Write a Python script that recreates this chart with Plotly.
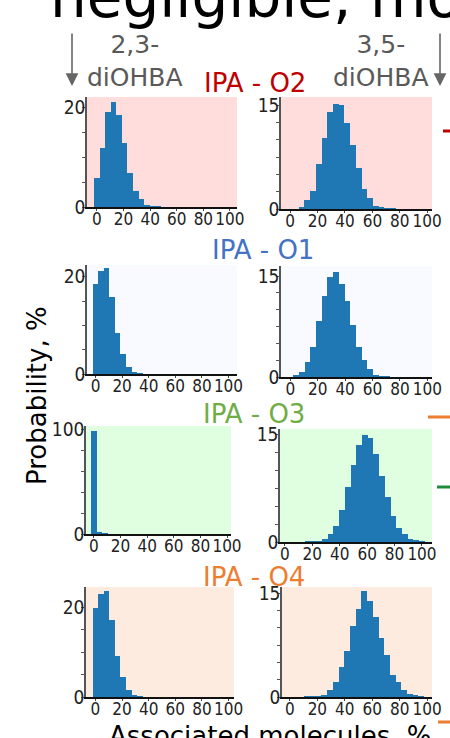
import plotly.graph_objects as go

PAGE_W, PAGE_H = 450, 738
OFF = 0  # body margin removed via post_script
FW, FH = PAGE_W - OFF, PAGE_H - OFF
BIN = 100 / 24
bin_centers = [k * BIN for k in range(25)]

# Probability (%) per bin of associated molecules (%)
o2_23 = [5.8, 11.9, 19.1, 21.1, 18.5, 12.9, 6.8, 3.2, 1.6, 0.46, 0.15, 0.05]
o2_35 = [0, 0, 0.24, 1.3, 2.6, 6.5, 10.2, 14.1, 15.2, 15.1, 12.5, 9.2, 5.9, 2.9, 1.6, 0.43, 0.24, 0.1, 0.05]
o1_23 = [18.4, 21.2, 21.7, 15.8, 8.4, 4.1, 1.5, 0.48, 0.1]
o1_35 = [0, 0.15, 0.8, 2.2, 4.4, 8.3, 12.0, 14.9, 15.6, 13.8, 11.3, 7.8, 4.5, 2.5, 1.2, 0.34, 0.1, 0.05]
o3_23 = [98.4, 1.2, 0.3]
o3_35 = [0, 0, 0, 0, 0.03, 0.05, 0.05, 0.47, 1.1, 2.2, 4.5, 7.7, 10.8, 13.5, 15.0, 14.5, 12.3,
         9.2, 6.3, 3.6, 2.0, 1.1, 0.38, 0.23, 0.1]
o4_23 = [19.9, 23.0, 23.7, 17.2, 9.1, 4.4, 1.5, 0.4, 0.1]
o4_35 = [0, 0, 0, 0.03, 0.05, 0.05, 0.2, 1.06, 2.1, 4.4, 6.7, 10.2, 12.7, 15.3, 13.9, 11.6, 8.6,
         6.1, 3.2, 2.2, 1.06, 0.48, 0.2, 0.1]

x_ticks = [0, 20, 40, 60, 80, 100]
panel_titles = ["IPA - O2", "IPA - O1", "IPA - O3", "IPA - O4"]
title_colors = ["#c00000", "#4472c4", "#70ad47", "#ed7d31"]
bg_colors = ["#ffdddd", "#f8faff", "#e0ffe0", "#fdebe0"]

# panel layout: (series, page-px box x0,x1,y0,y1, xrange, yrange, ytickvals, minor dtick, row)
panels = [
    (o2_23, (87, 237, 97, 207), [-7.5, 105.3], [0, 22.0], [0, 20], 5, 0),
    (o2_35, (281, 432, 97, 209), [-6.7, 103.5], [0, 16.2], [0, 15], 2.5, 0),
    (o1_23, (87, 237, 265, 374), [-6.4, 106.4], [0, 22.4], [0, 20], 5, 1),
    (o1_35, (281, 432, 266, 377), [-6.8, 103.4], [0, 16.5], [0, 15], 2.5, 1),
    (o3_23, (86, 231, 426, 534), [-6.0, 103.0], [0, 103.2], [0, 100], 20, 2),
    (o3_35, (280, 432, 429, 542), [-3.6, 107.3], [0, 15.8], [0, 15], 2.5, 2),
    (o4_23, (86, 234, 587, 697), [-7.1, 104.1], [0, 24.6], [0, 20], 5, 3),
    (o4_35, (282, 432, 587, 697), [-5.8, 103.6], [0, 15.9], [0, 15], 2.5, 3),
]


def px(xp, yp):
    return (xp - OFF) / FW, 1 - (yp - OFF) / FH


FONT = "DejaVu Sans"
TICKFONT = "DejaVu Sans Condensed, DejaVu Sans"
fig = go.Figure()
shapes = []
layout = {}
for i, (vals, box, xr, yr, ytv, mdt, row) in enumerate(panels):
    n = i + 1
    xa = "x" if n == 1 else f"x{n}"
    ya = "y" if n == 1 else f"y{n}"
    fig.add_trace(go.Bar(x=bin_centers[:len(vals)], y=vals, width=BIN,
                         marker=dict(color="#1f77b4", line=dict(width=0)),
                         xaxis=xa, yaxis=ya, showlegend=False, hoverinfo="skip"))
    x0, x1, y0, y1 = box
    dx0, dy1 = px(x0, y0)
    dx1, dy0 = px(x1, y1)
    layout[f"xaxis{n if n > 1 else ''}"] = dict(
        domain=[dx0, dx1], range=xr, anchor=ya, tickvals=x_ticks, tickangle=0,
        showline=True, linecolor="#111", linewidth=1.5, ticks="outside", ticklen=2,
        tickcolor="#444", showgrid=False, zeroline=False, automargin=False,
        ticklabelstandoff=-6,
        tickfont=dict(family=TICKFONT, size=17, color="#222"), fixedrange=True)
    layout[f"yaxis{n if n > 1 else ''}"] = dict(
        domain=[dy0, dy1], range=yr, anchor=xa, tickvals=ytv,
        showline=True, linecolor="#555", linewidth=1.5, ticks="outside", ticklen=3,
        tickcolor="#555", showgrid=False, zeroline=False, automargin=False,
        ticklabelstandoff=-7,
        minor=dict(dtick=mdt, tick0=0, ticks="outside", ticklen=3, tickcolor="#555"),
        tickfont=dict(family=TICKFONT, size=19, color="#222"), fixedrange=True)
    shapes.append(dict(type="rect", xref=f"{xa} domain", yref=f"{ya} domain",
                       x0=0, x1=1, y0=0, y1=1, fillcolor=bg_colors[row],
                       line=dict(width=0), layer="below"))

annotations = []
# big cropped title
bx, by = px(48, 33)
annotations.append(dict(text="negligible, mo", x=bx, y=by, xref="paper", yref="paper",
                        xanchor="left", yanchor="bottom", showarrow=False,
                        font=dict(family=FONT, size=58, color="#000")))
# column headers
for cx, txt in [(135, "2,3-<br>diOHBA"), (381, "3,5-<br>diOHBA")]:
    ax_, ay_ = px(cx, 61)
    annotations.append(dict(text=txt, x=ax_, y=ay_, xref="paper", yref="paper",
                            xanchor="center", yanchor="middle", showarrow=False,
                            font=dict(family=FONT, size=25, color="#595959")))
# arrows
for axp in [72, 440]:
    hx, hy = px(axp, 86)
    annotations.append(dict(text="", x=hx, y=hy, xref="paper", yref="paper",
                            ax=0, ay=-54, showarrow=True, arrowhead=2, arrowsize=1.6,
                            arrowwidth=1.6, arrowcolor="#666"))
# panel titles
for (cx, cy), t, c in zip([(255, 83), (263, 250), (254, 414), (254, 577)], panel_titles, title_colors):
    tx, ty = px(cx, cy)
    annotations.append(dict(text=t, x=tx, y=ty, xref="paper", yref="paper",
                            xanchor="center", yanchor="middle", showarrow=False,
                            font=dict(family=FONT, size=26, color=c)))
# axis titles
lx, ly = px(37, 396)
annotations.append(dict(text="Probability, %", x=lx, y=ly, xref="paper", yref="paper",
                        textangle=-90, xanchor="center", yanchor="middle", showarrow=False,
                        font=dict(family=FONT, size=26, color="#000")))
tx, ty = px(270, 719)
annotations.append(dict(text="Associated molecules, %", x=tx, y=ty, xref="paper", yref="paper",
                        xanchor="center", yanchor="top", showarrow=False,
                        font=dict(family=FONT, size=26, color="#000")))

# cropped legend line samples at the right edge
for (xa0, yy, col) in [(443, 131, "#c00000"), (428, 417, "#ed7d31"),
                       (437, 487, "#1e8c3c"), (438, 722, "#ed7d31")]:
    x0p, y0p = px(xa0, yy)
    shapes.append(dict(type="line", xref="paper", yref="paper", x0=x0p, x1=1.0,
                       y0=y0p, y1=y0p, line=dict(color=col, width=3)))

fig.update_layout(width=FW, height=FH, margin=dict(l=0, r=0, t=0, b=0),
                  paper_bgcolor="white", plot_bgcolor="rgba(0,0,0,0)",
                  bargap=0, shapes=shapes, annotations=annotations, **layout)
fig.write_html("out.html", config={"displayModeBar": False},
               post_script="document.body.style.margin='0';document.body.style.overflow='hidden';")
